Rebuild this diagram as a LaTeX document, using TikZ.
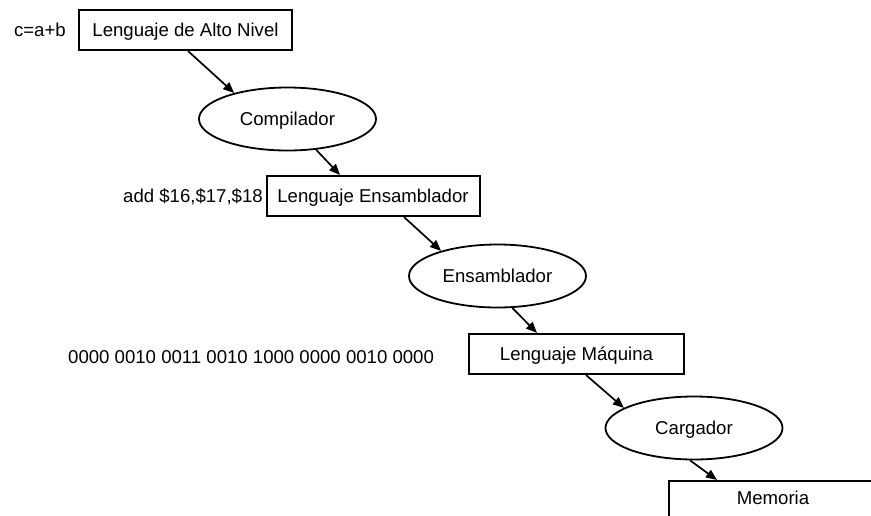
\documentclass[tikz,border=0pt]{standalone}
\usepackage{fontspec}
\setmainfont{Liberation Sans}
\usetikzlibrary{shapes.geometric,arrows.meta}
\begin{document}
\begin{tikzpicture}[x=1pt,y=-1pt,
  every node/.style={font=\fontsize{18.6}{22}\selectfont, inner sep=0pt, text height=13pt, text depth=1pt},
  boxnode/.style={draw, line width=2pt, minimum width=213pt, minimum height=40pt},
  ellnode/.style={draw, ellipse, line width=1.8pt, minimum width=177pt, minimum height=63pt},
  conn/.style={line width=1.7pt, -{Triangle[length=11pt,width=9pt]}}]
\useasboundingbox (0,0) rectangle (871,515);
\node[boxnode] (b1) at (185.5,30) {Lenguaje de Alto Nivel};
\node[anchor=east] (t1) at (66,30) {c=a+b};
\node[ellnode] (e1) at (287.5,119) {Compilador};
\node[boxnode] (b2) at (373,196) {Lenguaje Ensamblador};
\node[anchor=east] (t2) at (263,196) {add \$16,\$17,\$18};
\node[ellnode] (e2) at (497.5,276) {Ensamblador};
\node[boxnode, minimum width=215pt] (b3) at (576.5,354) {Lenguaje Máquina};
\node[anchor=west] (t3) at (68,357) {0000 0010 0011 0010 1000 0000 0010 0000};
\node[ellnode] (e3) at (694,428) {Cargador};
\node[boxnode, minimum width=208pt, minimum height=40pt, anchor=north] (b4) at (773,480) {};
\node (m4) at (773,498) {Memoria};
\draw[conn] ([xshift=2.5pt]b1.south) -- (e1.154);
\draw[conn] (e1.-47) -- ([xshift=-33pt]b2.north);
\draw[conn] ([xshift=31pt]b2.south) -- (e2.156);
\draw[conn] (e2.-65) -- ([xshift=-39.5pt]b3.north);
\draw[conn] ([xshift=9.5pt]b3.south) -- (e3.164);
\draw[conn] (e3.-97) -- ([xshift=-56pt]b4.north);
\end{tikzpicture}
\end{document}
